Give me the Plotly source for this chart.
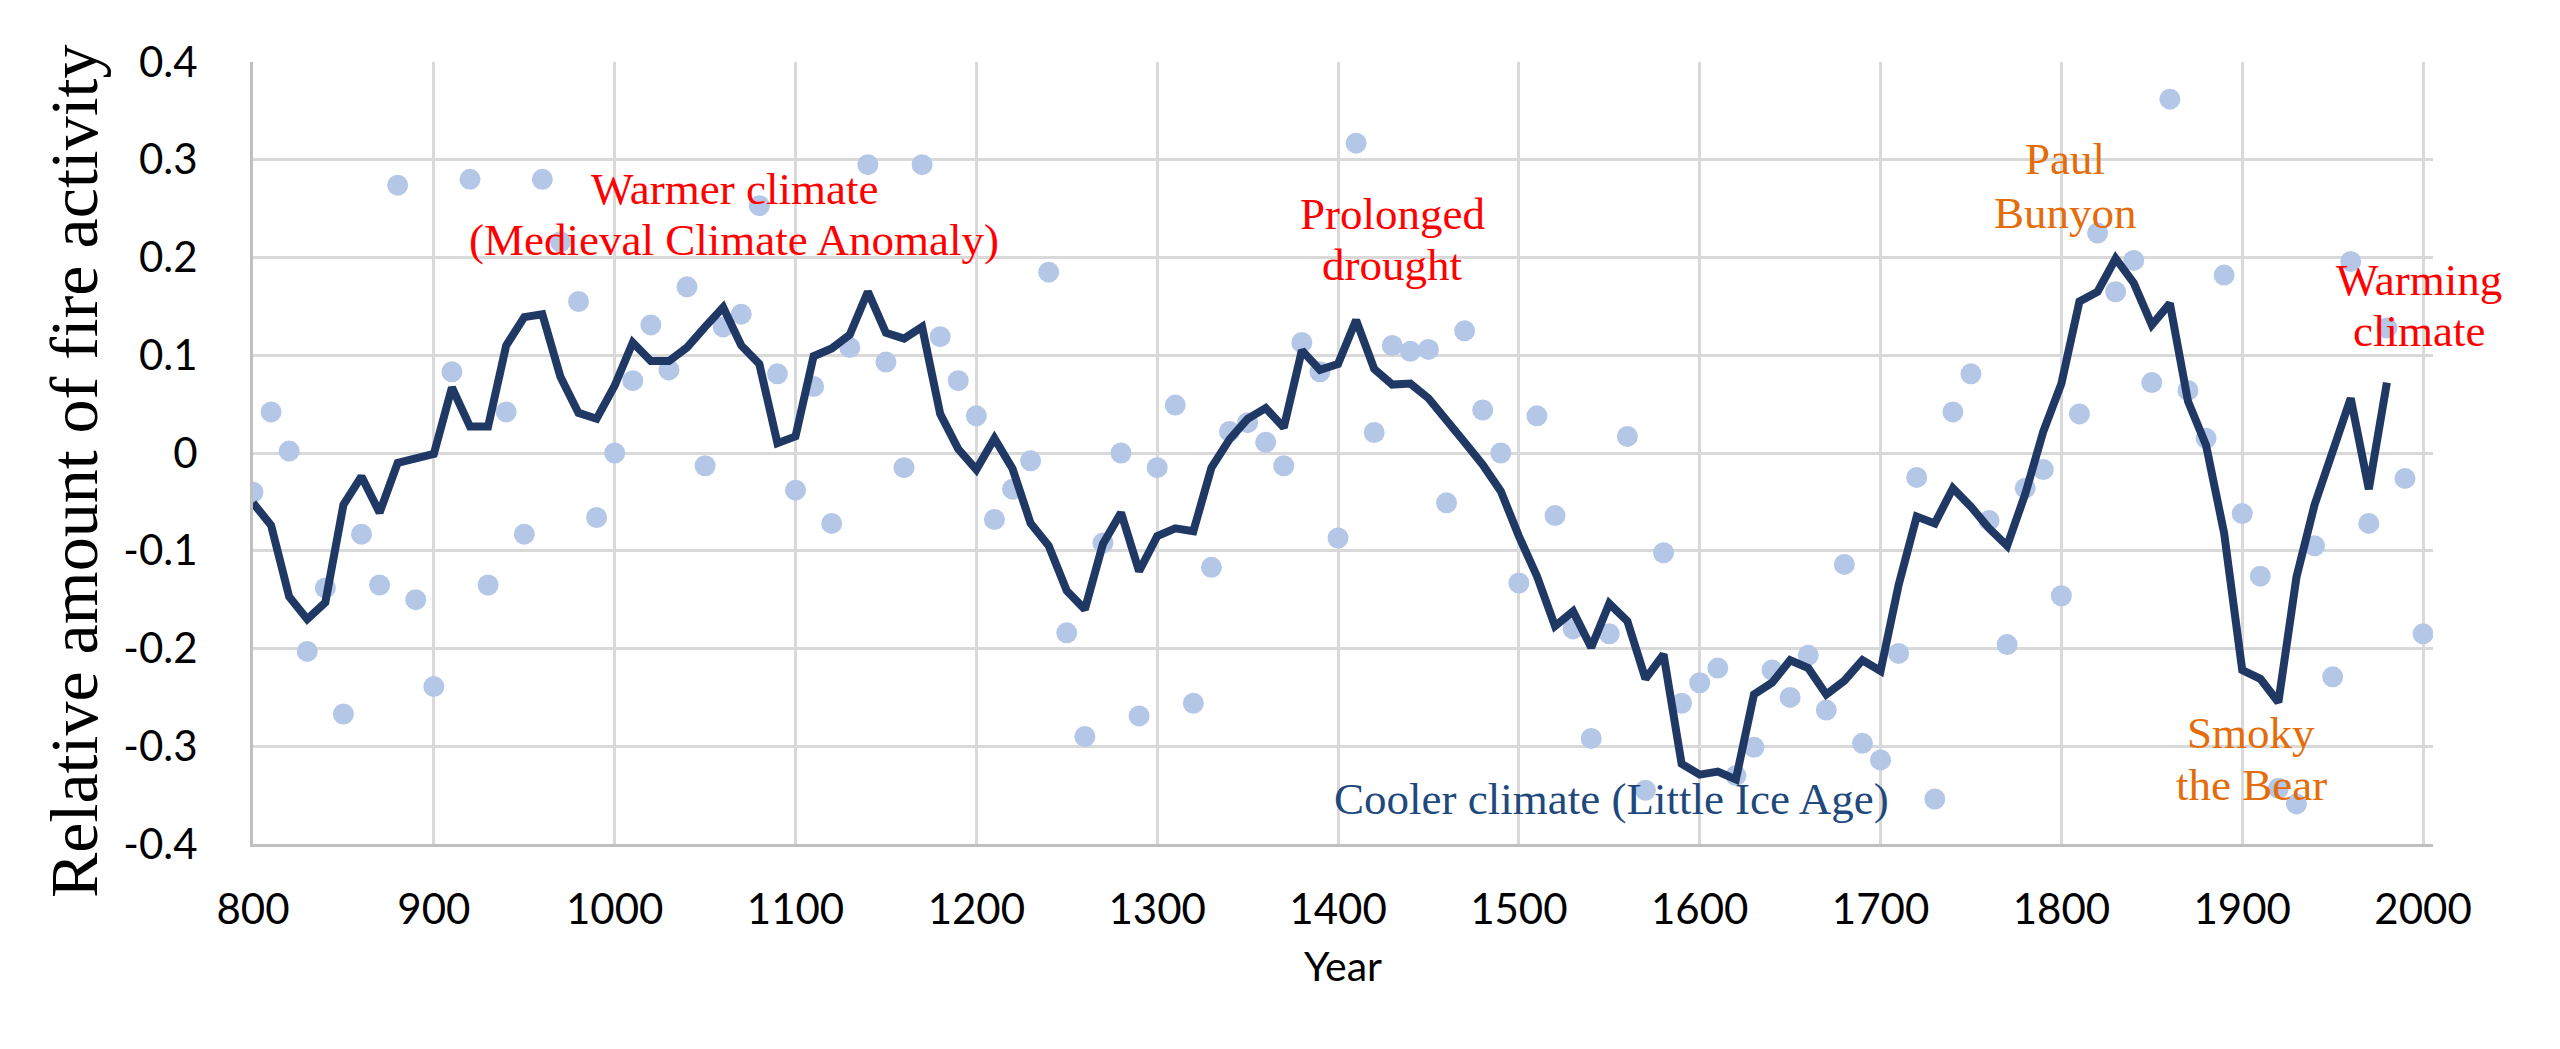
import plotly.graph_objects as go

# years (decadal)
years = list(range(800, 2001, 10))
smooth_years = list(range(800, 1981, 10))

# decadal values (light blue points)
decadal = [
    -0.040, 0.042, 0.002, -0.203, -0.138, -0.267, -0.083, -0.135, 0.274, -0.150,
    -0.239, 0.083, 0.280, -0.135, 0.042, -0.083, 0.280, 0.216, 0.155, -0.066,
    0.000, 0.074, 0.131, 0.085, 0.170, -0.013, 0.129, 0.142, 0.253, 0.081,
    -0.038, 0.068, -0.072, 0.108, 0.295, 0.093, -0.015, 0.295, 0.119, 0.074,
    0.038, -0.068, -0.037, -0.008, 0.185, -0.184, -0.290, -0.092, 0.000, -0.269,
    -0.015, 0.049, -0.256, -0.117, 0.022, 0.031, 0.011, -0.013, 0.113, 0.083,
    -0.087, 0.317, 0.021, 0.110, 0.104, 0.106, -0.051, 0.125, 0.044, 0.000,
    -0.133, 0.038, -0.064, -0.180, -0.292, -0.185, 0.017, -0.345, -0.102, -0.256,
    -0.235, -0.220, -0.330, -0.301, -0.222, -0.250, -0.207, -0.263, -0.114, -0.297,
    -0.314, -0.205, -0.025, -0.354, 0.042, 0.081, -0.069, -0.196, -0.036, -0.017,
    -0.146, 0.040, 0.225, 0.165, 0.197, 0.072, 0.362, 0.064, 0.015, 0.182,
    -0.062, -0.126, -0.343, -0.359, -0.095, -0.229, 0.196, -0.072, 0.128, -0.026,
    -0.185,
]

# smoothed curve (dark line)
smoothed = [
    -0.051, -0.074, -0.147, -0.170, -0.153, -0.053, -0.024, -0.061, -0.010, -0.006,
    -0.001, 0.067, 0.027, 0.027, 0.110, 0.139, 0.142, 0.078, 0.041, 0.035,
    0.069, 0.113, 0.094, 0.094, 0.108, 0.129, 0.149, 0.110, 0.091, 0.010,
    0.017, 0.099, 0.107, 0.121, 0.165, 0.123, 0.117, 0.129, 0.040, 0.004,
    -0.017, 0.015, -0.016, -0.072, -0.095, -0.141, -0.160, -0.093, -0.061, -0.121,
    -0.085, -0.077, -0.080, -0.015, 0.014, 0.035, 0.046, 0.026, 0.105, 0.085,
    0.091, 0.136, 0.086, 0.070, 0.071, 0.056, 0.032, 0.011, -0.012, -0.039,
    -0.085, -0.126, -0.177, -0.162, -0.199, -0.154, -0.172, -0.231, -0.206, -0.318,
    -0.329, -0.326, -0.334, -0.247, -0.235, -0.212, -0.220, -0.247, -0.233, -0.212,
    -0.223, -0.135, -0.065, -0.072, -0.036, -0.055, -0.077, -0.095, -0.042, 0.022,
    0.071, 0.155, 0.165, 0.199, 0.174, 0.131, 0.153, 0.053, 0.008, -0.082,
    -0.222, -0.231, -0.255, -0.127, -0.053, 0.004, 0.056, -0.037, 0.072,
]

y_ticks = [-0.4, -0.3, -0.2, -0.1, 0, 0.1, 0.2, 0.3, 0.4]
y_tick_labels = ["-0.4", "-0.3", "-0.2", "-0.1", "0", "0.1", "0.2", "0.3", "0.4"]

RED = "#FF0000"
ORANGE = "#E46C0A"
BLUE = "#1F497D"

fig = go.Figure()
fig.add_trace(go.Scatter(
    x=years, y=decadal, mode="markers",
    marker=dict(color="#B4C7E7", size=21),
    hoverinfo="x+y",
))
fig.add_trace(go.Scatter(
    x=smooth_years, y=smoothed, mode="lines",
    line=dict(color="#203864", width=8),
    hoverinfo="x+y",
))

# text labels: (text, x, y, colour)
notes = [
    ("Warmer climate", 1066, 0.270, RED),
    ("(Medieval Climate Anomaly)", 1066, 0.218, RED),
    ("Prolonged", 1430, 0.245, RED),
    ("drought", 1430, 0.192, RED),
    ("Paul", 1802, 0.301, ORANGE),
    ("Bunyon", 1802, 0.246, ORANGE),
    ("Warming", 1998, 0.177, RED),
    ("climate", 1998, 0.125, RED),
    ("Smoky", 1905, -0.286, ORANGE),
    ("the Bear", 1905, -0.340, ORANGE),
    ("Cooler climate (Little Ice Age)", 1551, -0.354, BLUE),
]
for txt, xx, yy, col in notes:
    fig.add_annotation(
        x=xx, y=yy, text=txt, showarrow=False, xanchor="center", yanchor="middle",
        font=dict(family="Liberation Serif", size=45, color=col),
    )

fig.add_annotation(
    xref="paper", yref="paper", x=-0.0821, y=0.477,
    xanchor="center", yanchor="middle",
    text="Relative amount of fire activity", textangle=-90, showarrow=False,
    font=dict(family="Liberation Serif", size=68, color="#000000"),
)
fig.add_annotation(
    xref="paper", yref="paper", x=0.5, y=-0.156, text="Year", showarrow=False,
    xanchor="center", yanchor="middle",
    font=dict(family="Lato", size=41, color="#000000"),
)

fig.update_layout(
    width=2560, height=1049,
    margin=dict(l=245, r=135, t=54, b=213),
    plot_bgcolor="white", paper_bgcolor="white",
    showlegend=False,
    font=dict(family="Lato", size=41, color="#000000"),
)
fig.update_xaxes(
    range=[800, 2005.5], tick0=800, dtick=100,
    showgrid=True, gridcolor="#D9D9D9", gridwidth=3,
    showline=True, linecolor="#BFBFBF", linewidth=3,
    zeroline=False, ticks="", ticklabelstandoff=27,
    tickfont=dict(family="Lato", size=42, color="#000000"),
)
fig.update_yaxes(
    range=[-0.4, 0.4], tickmode="array", tickvals=y_ticks, ticktext=y_tick_labels,
    showgrid=True, gridcolor="#D9D9D9", gridwidth=3,
    showline=True, linecolor="#BFBFBF", linewidth=3,
    zeroline=False, ticks="", ticklabelstandoff=44,
    tickfont=dict(family="Lato", size=42, color="#000000"),
)

fig.write_html("out.html")
